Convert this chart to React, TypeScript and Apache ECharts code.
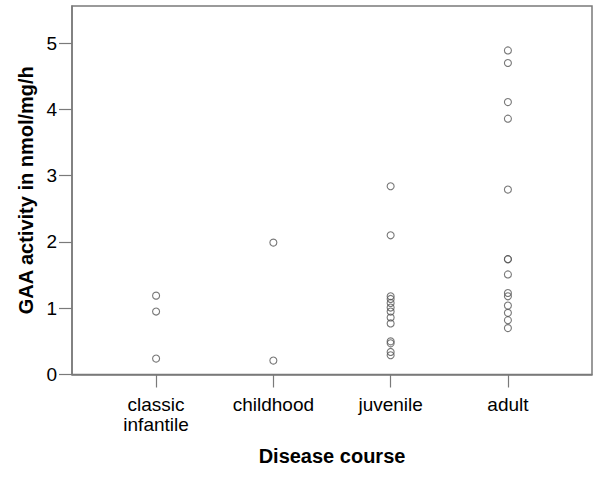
import React, { useEffect, useRef } from "react";
import * as echarts from "echarts";

const categories = ["classic\ninfantile", "childhood", "juvenile", "adult"];
const classicInfantile = [1.19, 0.95, 0.24];
const childhood = [1.99, 0.21];
const juvenile = [2.84, 2.1, 1.18, 1.14, 1.08, 1.01, 0.95, 0.86, 0.77, 0.5, 0.47, 0.34, 0.29];
const adult = [4.89, 4.7, 4.11, 3.86, 2.79, 1.74, 1.74, 1.51, 1.23, 1.18, 1.04, 0.93, 0.82, 0.7];
const yTicks = [0, 1, 2, 3, 4, 5];
const xTicks = [1, 2, 3, 4];

const groups = [classicInfantile, childhood, juvenile, adult];

export default function App() {
  const ref = useRef<HTMLDivElement>(null);
  useEffect(() => {
    if (!ref.current) return;
    const chart = echarts.init(ref.current, null, { renderer: "svg" });
    const data: number[][] = [];
    groups.forEach((g, i) => g.forEach((v) => data.push([i + 1, v])));
    const font = "'Liberation Sans', Arial, sans-serif";
    const axisColor = "#7a7a7a";
    chart.setOption({
      animation: false,
      backgroundColor: "#ffffff",
      grid: {
        left: 72,
        right: 8,
        top: 6,
        bottom: 105.5,
        show: true,
        borderColor: axisColor,
        borderWidth: 1.5,
      },
      xAxis: {
        type: "value",
        min: 0.283,
        max: 4.717,
        name: "Disease course",
        nameLocation: "middle",
        nameGap: 71,
        nameTextStyle: { fontFamily: font, fontSize: 20, fontWeight: "bold", color: "#000" },
        axisLine: { show: true, lineStyle: { color: axisColor, width: 1.5 } },
        axisTick: { show: true, length: 13, customValues: xTicks, lineStyle: { color: axisColor, width: 1.2 } },
        axisLabel: {
          customValues: xTicks,
          formatter: (v: number) => categories[Math.round(v) - 1] ?? "",
          fontFamily: font,
          fontSize: 19,
          lineHeight: 20,
          color: "#000",
          margin: 20,
        },
        splitLine: { show: false },
      },
      yAxis: {
        type: "value",
        min: 0,
        max: 5.56,
        name: "GAA activity in nmol/mg/h",
        nameLocation: "middle",
        nameGap: 34,
        nameTextStyle: { fontFamily: font, fontSize: 20, fontWeight: "bold", color: "#000" },
        axisLine: { show: true, lineStyle: { color: axisColor, width: 1.5 } },
        axisTick: { show: true, length: 13, customValues: yTicks, lineStyle: { color: axisColor, width: 1.2 } },
        axisLabel: {
          customValues: yTicks,
          fontFamily: font,
          fontSize: 19,
          color: "#000",
          margin: 15,
        },
        splitLine: { show: false },
      },
      series: [
        {
          type: "scatter",
          data,
          symbol: "circle",
          symbolSize: 7,
          itemStyle: { color: "rgba(0,0,0,0)", borderColor: "#555", borderWidth: 1.1 },
        },
      ],
    });
    return () => chart.dispose();
  }, []);
  return (
    <div
      ref={ref}
      style={{ position: "fixed", left: 0, top: 0, width: 600, height: 480, background: "#fff" }}
    />
  );
}
